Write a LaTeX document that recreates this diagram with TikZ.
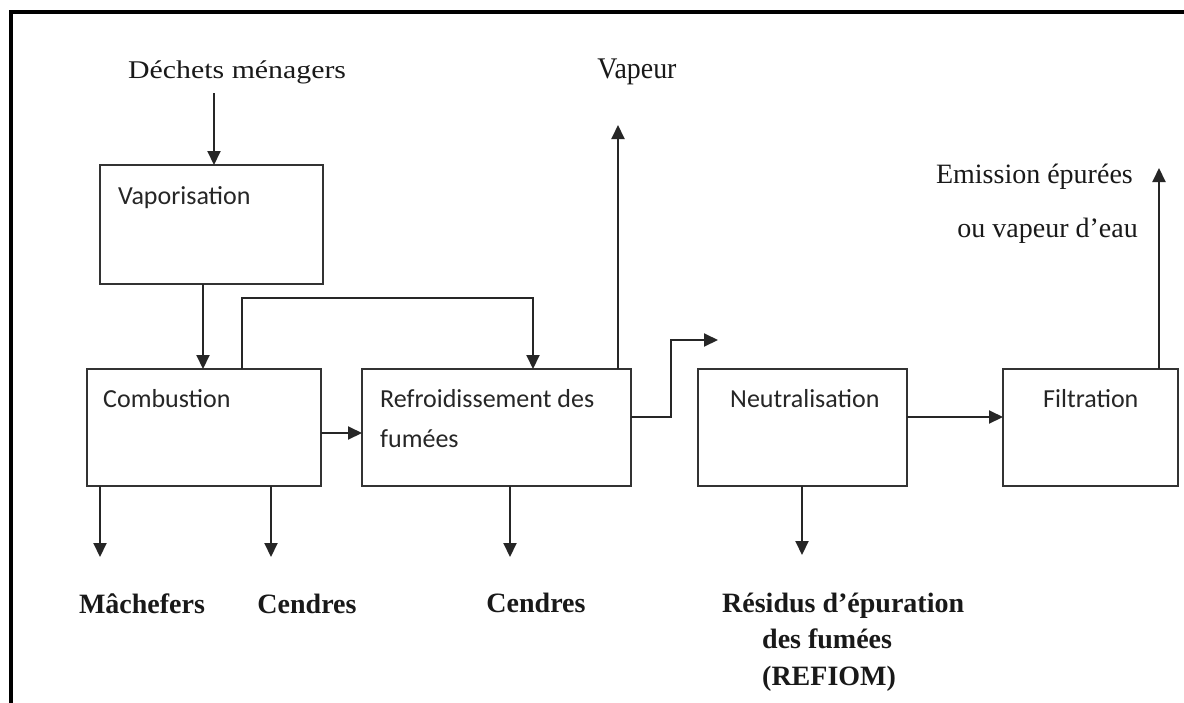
\documentclass[tikz,border=0pt]{standalone}
\usepackage{fontspec}
\setmainfont{Liberation Serif}
\newfontfamily\boxfont{Carlito}
\usetikzlibrary{arrows.meta}
\newcommand\xstretch[2]{\scalebox{#1}[1]{#2}}
\begin{document}
\begin{tikzpicture}[x=1pt,y=-1pt,
  box/.style={draw=black!80, line width=2pt, rectangle, inner sep=0pt, outer sep=0pt},
  boxtext/.style={anchor=base west, inner sep=0pt, font=\boxfont\fontsize{26}{31}\selectfont, text=black!85},
  lbl/.style={inner sep=0pt, font=\fontsize{28}{34}\selectfont, text=black!90},
  blbl/.style={inner sep=0pt, font=\fontsize{28}{34}\selectfont\bfseries, text=black!90},
  flow/.style={line width=2pt, draw=black!85, -{Triangle[length=14pt,width=13pt]}},
  frameline/.style={line width=4pt, line cap=rect}]
\useasboundingbox (0,0) rectangle (1184,702);
\fill[white] (0,0) rectangle (1184,702);
% outer frame (top and left edges)
\draw[frameline] (1190,12) -- (11,12) -- (11,710);

% process boxes
\node[box, minimum width=223, minimum height=119] (vap)  at (211.5,224.5) {};
\node[box, minimum width=234, minimum height=117] (comb) at (204,427.5) {};
\node[box, minimum width=269, minimum height=117] (refr) at (496.5,427.5) {};
\node[box, minimum width=209, minimum height=117] (neut) at (802.5,427.5) {};
\node[box, minimum width=175, minimum height=117] (filt) at (1090.5,427.5) {};

% box captions
\node[boxtext] (vapT)  at (118,204) {Vaporisation};
\node[boxtext] (combT) at (103,407) {Combustion};
\node[boxtext] (refrT) at (380,407) {Refroidissement des};
\node[boxtext] (refrT2) at (380,447) {fumées};
\node[boxtext] (neutT) at (730,407) {Neutralisation};
\node[boxtext] (filtT) at (1043,407) {Filtration};

% inputs and outputs
\node[lbl, anchor=base west] (dech) at (128,78) {\xstretch{1.17}{\fontsize{25.5}{30}\selectfont Déchets ménagers}};
\node[lbl, anchor=base] (vapeur) at (637,78) {\xstretch{0.93}{\fontsize{30}{36}\selectfont Vapeur}};
\node[lbl, anchor=base east] (em1) at (1133,183) {Emission épurées};
\node[lbl, anchor=base east] (em2) at (1138,237) {ou vapeur d’eau};
\node[blbl, anchor=base] (mach) at (142,613) {Mâchefers};
\node[blbl, anchor=base] (cend1) at (307,613) {Cendres};
\node[blbl, anchor=base] (cend2) at (536,612) {Cendres};
\node[blbl, anchor=base west] (res1) at (722,612) {Résidus d’épuration};
\node[blbl, anchor=base west] (res2) at (762,648) {des fumées};
\node[blbl, anchor=base west] (res3) at (762,685) {(REFIOM)};

% free ends and bends of connectors
\coordinate (dechOut) at (214,93);
\coordinate (vapDown) at (203,300);
\coordinate (fbUp) at (242,298);
\coordinate (fbOver) at (533,298);
\coordinate (vapTop) at (618,125);
\coordinate (gasBend) at (671,340);
\coordinate (gasEnd) at (718,340);
\coordinate (emTop) at (1159,168);
\coordinate (machEnd) at (100,557);
\coordinate (cend1End) at (271,557);
\coordinate (cend2End) at (510,557);
\coordinate (resEnd) at (802,555);

% connectors
\draw[flow] (dechOut) -- (dechOut |- vap.north);
\draw[flow] (vapDown |- vap.south) -- (vapDown |- comb.north);
\draw[flow] (fbUp |- comb.north) -- (fbUp) -- (fbOver) -- (fbOver |- refr.north);
\draw[flow] ([yshift=-5.5pt]comb.east) -- ([yshift=-5.5pt]refr.west);
\draw[flow] (vapTop |- refr.north) -- (vapTop);
\draw[flow] ([yshift=10.5pt]refr.east) -| (gasBend) -- (gasEnd);
\draw[flow] ([yshift=10.5pt]neut.east) -- ([yshift=10.5pt]filt.west);
\draw[flow] (emTop |- filt.north) -- (emTop);
\draw[flow] (machEnd |- comb.south) -- (machEnd);
\draw[flow] (cend1End |- comb.south) -- (cend1End);
\draw[flow] (cend2End |- refr.south) -- (cend2End);
\draw[flow] (resEnd |- neut.south) -- (resEnd);
\end{tikzpicture}
\end{document}
